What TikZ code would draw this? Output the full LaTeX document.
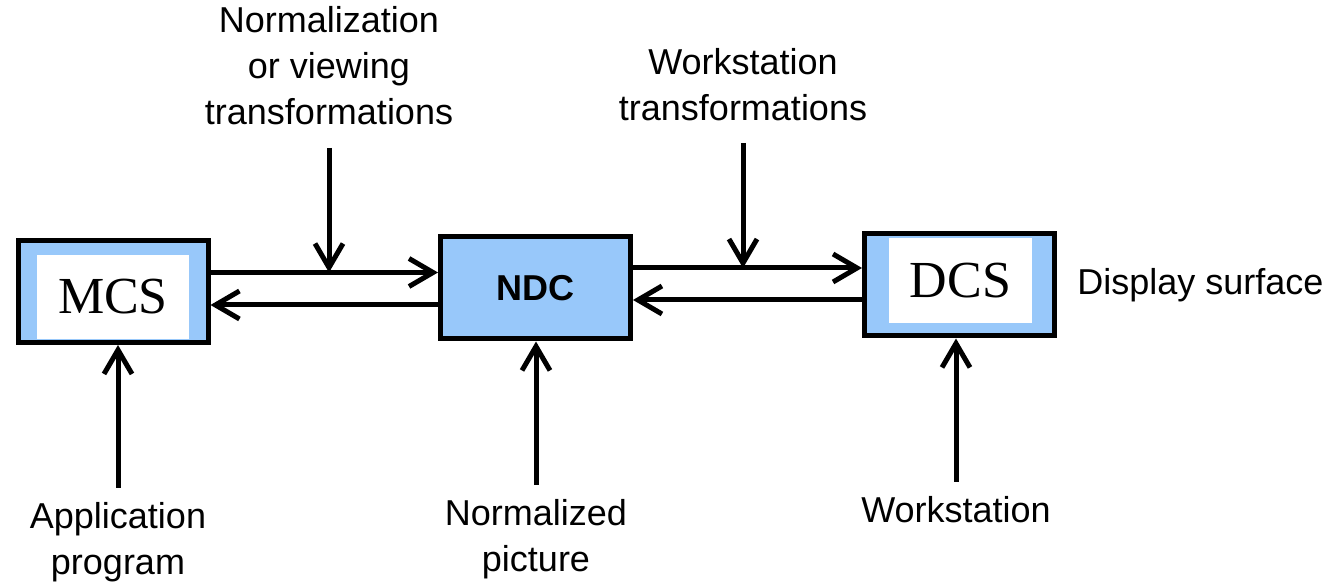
\documentclass[tikz,border=0pt]{standalone}
\usepackage{fontspec}
\setmainfont{Liberation Sans}
\newfontfamily\tagfont{Liberation Serif}
\usetikzlibrary{positioning,arrows.meta}
\definecolor{boxblue}{RGB}{152,200,250}

\begin{document}
\begin{tikzpicture}[x=0.5pt,y=-0.5pt]
\tikzstyle{box}=[draw,line width=2.5pt,fill=boxblue,minimum width=95pt,minimum height=51pt,inner sep=0]
\tikzstyle{plate}=[fill=white,inner sep=0,font=\fontsize{26}{28}\tagfont]
\tikzstyle{lbl}=[align=center,inner xsep=0,inner ysep=7pt,font=\fontsize{18}{23}\selectfont]
\tikzstyle{flow}=[-{Straight Barb[length=12pt,width=14pt]},line width=2.5pt]
\useasboundingbox (0,0) rectangle (1335,587);

\node[box] (mcs) at (113,291.5) {};
\node[box,font=\fontsize{18}{20}\selectfont\bfseries] (ndc) at (535.5,288) {NDC};
\node[box] (dcs) at (959.5,285) {};

\node[plate,minimum width=76pt,minimum height=42pt] (mcstag) at (113,297) {MCS};
\node[plate,minimum width=71.5pt,minimum height=42.5pt] (dcstag) at (960.5,280.5) {DCS};

\node[lbl,inner sep=0,right=10pt of dcs] (surf) {Display surface};

\node[lbl,inner ysep=11.5pt,anchor=south] (normtf) at (329,148) {Normalization\\or viewing\\transformations};
\node[lbl,inner ysep=11pt,anchor=south] (wstf) at (743,143) {Workstation\\transformations};

\node[lbl,anchor=north] (appl) at (118,488) {Application\\program};
\node[lbl,anchor=north] (npic) at (536,485) {Normalized\\picture};
\node[lbl,anchor=north] (wsta) at (956,482) {Workstation};

% links between the coordinate systems
\coordinate (up1) at ([yshift=9.5pt]mcs.east);
\coordinate (lo1) at ([yshift=-6.75pt]mcs.east);
\coordinate (up2) at ([yshift=10pt]ndc.east);
\coordinate (lo2) at ([yshift=-6pt]ndc.east);

\draw[flow] (up1) -- (up1 -| ndc.west);
\draw[flow] (lo1 -| ndc.west) -- (lo1);
\draw[flow] (up2) -- (up2 -| dcs.west);
\draw[flow] (lo2 -| dcs.west) -- (lo2);

\draw[flow] (normtf.south) -- (normtf.south |- up1);
\draw[flow] (wstf.south) -- (wstf.south |- up2);

\draw[flow] (appl.north) -- (appl.north |- mcs.south);
\draw[flow] (npic.north) -- (npic.north |- ndc.south);
\draw[flow] (wsta.north) -- (wsta.north |- dcs.south);
\end{tikzpicture}
\end{document}
